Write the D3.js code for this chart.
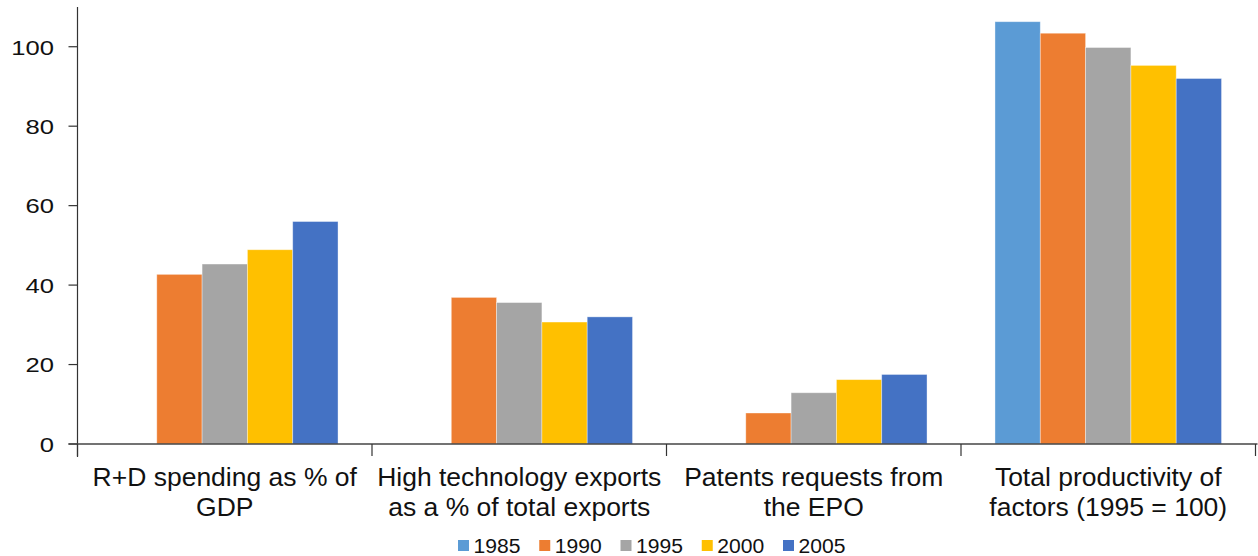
<!DOCTYPE html>
<html>
<head>
<meta charset="utf-8">
<script src="https://cdn.jsdelivr.net/npm/d3@7"></script>
<style>
  html, body { margin: 0; padding: 0; background: #fff; }
  svg { display: block; }
  text { font-family: "Liberation Sans", Arial, sans-serif; fill: #111; }
</style>
</head>
<body>
<svg id="chart" width="1258" height="556"></svg>
<script>
// ---- data ----
const categories = [
  ["R+D spending as % of", "GDP"],
  ["High technology exports", "as a % of total exports"],
  ["Patents requests from", "the EPO"],
  ["Total productivity of", "factors (1995 = 100)"]
];
const years = ["1985", "1990", "1995", "2000", "2005"];
const v1985 = [null, null, null, 106.3];
const v1990 = [42.7, 36.9, 7.8, 103.4];
const v1995 = [45.3, 35.6, 12.9, 99.8];
const v2000 = [48.9, 30.7, 16.2, 95.3];
const v2005 = [56.0, 32.0, 17.5, 92.0];
const yTicks = [0, 20, 40, 60, 80, 100];
const colors = ["#5B9BD5", "#ED7D31", "#A5A5A5", "#FFC000", "#4472C4"];

const series = [v1985, v1990, v1995, v2000, v2005];

// ---- layout ----
const svg = d3.select("#chart");
const plotL = 77.5, plotR = 1255.5, plotT = 7, plotB = 444;

const y = d3.scaleLinear().domain([0, 110]).range([plotB, plotT]);
const x0 = d3.scaleBand().domain(d3.range(categories.length)).range([plotL, plotR]).padding(0);
const x1 = d3.scaleBand().domain(years).range([0, x0.bandwidth()]).paddingInner(0).paddingOuter(0.75);
const color = d3.scaleOrdinal().domain(years).range(colors);

// helper for horizontally widened text
function stext(g, x, yy, str, size, sx, anchor) {
  return g.append("text")
    .attr("transform", `translate(${x},${yy}) scale(${sx},1)`)
    .attr("text-anchor", anchor)
    .style("font-size", size + "px")
    .text(str);
}

// ---- bars ----
const flat = [];
categories.forEach((c, i) => {
  years.forEach((yr, j) => {
    const v = series[j][i];
    if (v != null) flat.push({ cat: i, year: yr, value: v });
  });
});

svg.append("g").selectAll("rect").data(flat).join("rect")
  .attr("x", d => x0(d.cat) + x1(d.year))
  .attr("y", d => y(d.value))
  .attr("width", x1.bandwidth())
  .attr("height", d => y(0) - y(d.value))
  .attr("fill", d => color(d.year))
  .attr("stroke", "rgba(255,255,255,0.45)")
  .attr("stroke-width", 0.8);

// ---- y axis ----
const yAxis = svg.append("g");
yAxis.append("line")
  .attr("x1", plotL).attr("x2", plotL).attr("y1", plotT).attr("y2", plotB + 13)
  .attr("stroke", "#333").attr("stroke-width", 1.2);
yTicks.forEach(t => {
  yAxis.append("line")
    .attr("x1", plotL - 9).attr("x2", plotL).attr("y1", y(t)).attr("y2", y(t))
    .attr("stroke", "#333").attr("stroke-width", 1.2);
  stext(yAxis, 54, y(t) + 7.8, String(t), 21, 1.22, "end");
});

// ---- x axis ----
const xAxis = svg.append("g");
xAxis.append("line")
  .attr("x1", plotL - 9).attr("x2", plotR + 2).attr("y1", plotB).attr("y2", plotB)
  .attr("stroke", "#444").attr("stroke-width", 1.5);
const seps = d3.range(categories.length + 1).map(i => i < categories.length ? x0(i) : x0(categories.length - 1) + x0.bandwidth());
seps.forEach(sx => {
  xAxis.append("line")
    .attr("x1", sx).attr("x2", sx).attr("y1", plotB).attr("y2", plotB + 12)
    .attr("stroke", "#333").attr("stroke-width", 1.2);
});
categories.forEach((lines, i) => {
  const cx = x0(i) + x0.bandwidth() / 2;
  lines.forEach((ln, k) => {
    stext(xAxis, cx, 485.5 + k * 30.5, ln, 25, 1.06, "middle");
  });
});

// ---- legend ----
const legend = svg.append("g");
const legX = d3.scalePoint().domain(years).range([458, 783]);
years.forEach(yr => {
  const lx = legX(yr);
  legend.append("rect")
    .attr("x", lx).attr("y", 540).attr("width", 11).attr("height", 11)
    .attr("fill", color(yr));
  stext(legend, lx + 15.5, 552.5, yr, 20.5, 1.03, "start");
});
</script>
</body>
</html>
